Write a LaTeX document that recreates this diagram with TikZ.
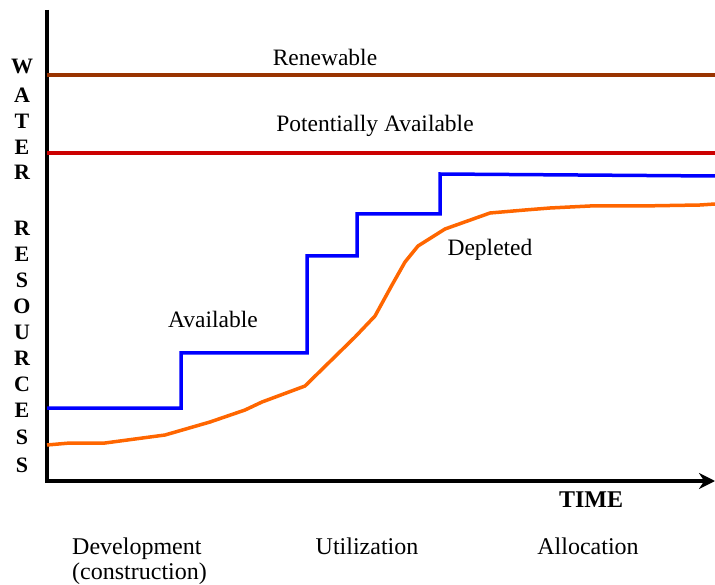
\documentclass[tikz,border=0pt]{standalone}
\usepackage{fontspec}
\setmainfont{Liberation Serif}
\usetikzlibrary{arrows.meta}
\definecolor{brownline}{HTML}{993300}
\definecolor{redline}{HTML}{CC0000}
\definecolor{blueline}{HTML}{0000FF}
\definecolor{orangeline}{HTML}{FF6600}
\begin{document}
\begin{tikzpicture}[x=1pt,y=-1pt,
  lbl/.style={font=\fontsize{23.5}{25}\selectfont, inner sep=0pt},
  plbl/.style={font=\fontsize{24}{25}\selectfont, inner sep=0pt},
  vlet/.style={font=\fontsize{22}{24}\selectfont\bfseries, inner sep=0pt},
  axisline/.style={line width=4.5pt, black},
  levelline/.style={line width=3.5pt}]
\useasboundingbox (0,0) rectangle (715,585);
% axes
\coordinate (top) at (47,10);
\coordinate (origin) at (47,481);
\coordinate (xend) at (715,481);
\draw[axisline, line cap=butt] (top) -- (47,483);
\draw[line width=4pt, -{Stealth[length=16pt,width=16pt]}] (45,481) -- (xend);
% level lines
\coordinate (r1) at (47,75); \coordinate (r2) at (715,75);
\coordinate (p1) at (47,153); \coordinate (p2) at (715,153);
\draw[levelline, brownline] (r1) -- (r2);
\draw[levelline, redline] (p1) -- (p2);
\node[lbl] (renew) at (325,57) {Renewable};
\node[lbl] (potav) at (375,126) {Potentially Available};
% available (blue) step line
\draw[line width=3.5pt, blueline, line join=miter]
  (47,408) -- (181,408) -- (181,353) -- (307,353) -- (307,256) -- (357,256)
  -- (357,214) -- (440,214) -- (440,174) -- (715,176);
% depleted (orange) curve
\draw[line width=3.5pt, orangeline, line join=round]
  (47,445) -- (70,443) -- (105,443) -- (165,435) -- (210,422) -- (245,410)
  -- (262,402) -- (305,386) -- (355,337) -- (375,316) -- (392,285) -- (405,262)
  -- (418,246) -- (445,229) -- (490,213) -- (525,210) -- (550,208) -- (590,206)
  -- (640,206) -- (700,205) -- (715,204);
\node[lbl] (avail) at (213,319) {Available};
\node[lbl] (depl) at (490,250) {Depleted};
% vertical axis label
\foreach \L/\Y [count=\i] in {W/66,A/95,T/121,E/147,R/172,R/228,E/254,S/280,O/306,U/332,R/358,C/384,E/410,S/437,S/465}
  \node[vlet] (v\i) at (22,\Y) {\L};
\node[font=\fontsize{24}{26}\selectfont\bfseries, inner sep=0pt] (time) at (591,500) {TIME};
% phase labels
\node[plbl, align=left, anchor=north west] (dev) at (72,538) {Development\\(construction)};
\node[plbl, anchor=north] (util) at (367,538) {Utilization};
\node[plbl, anchor=north] (alloc) at (588,538) {Allocation};
\end{tikzpicture}
\end{document}
